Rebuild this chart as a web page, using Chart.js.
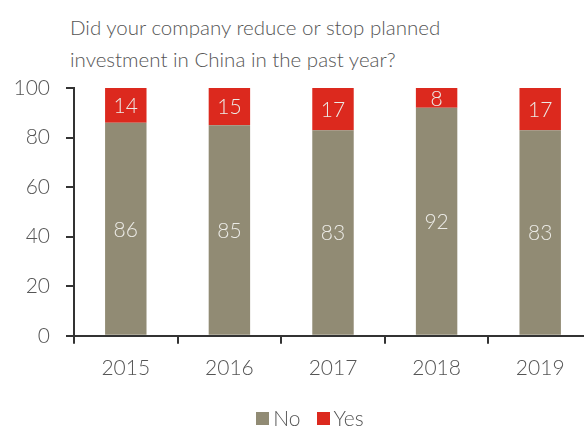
<!DOCTYPE html>
<html lang="en">
<head>
<meta charset="UTF-8">
<title>Planned investment in China</title>
<script src="https://cdn.jsdelivr.net/npm/chart.js@4.4.1/dist/chart.umd.min.js"></script>
<style>
    html, body {
        margin: 0;
        padding: 0;
        background: #ffffff;
        overflow: hidden;
    }
    .wrap {
        position: relative;
        width: 584px;
        height: 427px;
        overflow: hidden;
        font-family: Lato, "Open Sans", sans-serif;
        font-weight: 300;
        color: #555555;
    }
    .title {
        position: absolute;
        left: 70px;
        top: 11px;
        font-size: 20.5px;
        line-height: 32px;
    }
    .chart-box {
        position: absolute;
        left: 0;
        top: 0;
        width: 600px;
        height: 427px;
    }
    .legend {
        position: absolute;
        left: 0;
        width: 584px;
        top: 405px;
        text-align: center;
        font-size: 21px;
        line-height: 26px;
        padding-left: 36px;
        box-sizing: border-box;
    }
    .legend span.item {
        display: inline-block;
        margin: 0 8px;
    }
    .legend i {
        display: inline-block;
        width: 13px;
        height: 13px;
        margin-right: 4px;
        vertical-align: 1px;
    }
</style>
</head>
<body>
<div class="wrap">
    <div class="title">Did your company reduce or stop planned<br>investment in China in the past year?</div>
    <div class="chart-box"><canvas id="invest"></canvas></div>
    <div class="legend" id="legend"></div>
</div>
<script>
    // survey answers, percent of respondents
    const years = ['2015', '2016', '2017', '2018', '2019'];
    const noValues = [86, 85, 83, 92, 83];
    const yesValues = [14, 15, 17, 8, 17];
    const yTicks = [0, 20, 40, 60, 80, 100];

    const FONT = 'Lato, "Open Sans", sans-serif';
    const GREY = '#918b74';
    const RED = '#dc291e';

    // writes each segment's value in the middle of its bar piece
    const segmentLabels = {
        id: 'segmentLabels',
        afterDatasetsDraw(chart) {
            const ctx = chart.ctx;
            ctx.save();
            ctx.font = '300 21px ' + FONT;
            ctx.fillStyle = '#ecebe6';
            ctx.textAlign = 'center';
            ctx.textBaseline = 'middle';
            chart.data.datasets.forEach((ds, i) => {
                chart.getDatasetMeta(i).data.forEach((bar, j) => {
                    const p = bar.getProps(['x', 'y', 'base'], true);
                    ctx.fillText(String(ds.data[j]), p.x, (p.y + p.base) / 2 + 1);
                });
            });
            ctx.restore();
        }
    };

    const chart = new Chart(document.getElementById('invest'), {
        type: 'bar',
        data: {
            labels: years,
            datasets: [
                { label: 'No', data: noValues, backgroundColor: GREY },
                { label: 'Yes', data: yesValues, backgroundColor: RED }
            ]
        },
        options: {
            responsive: true,
            maintainAspectRatio: false,
            animation: false,
            barPercentage: 0.4,
            categoryPercentage: 1,
            layout: { padding: { top: 88, right: 8, left: 0, bottom: 34 } },
            scales: {
                x: {
                    stacked: true,
                    grid: { drawOnChartArea: false, drawTicks: true, tickLength: 8, color: '#333', lineWidth: 2 },
                    border: { color: '#333', width: 2 },
                    ticks: { color: '#555', font: { family: FONT, size: 21, weight: 300 }, padding: 12 }
                },
                y: {
                    stacked: true,
                    min: 0,
                    max: 100,
                    afterBuildTicks(scale) {
                        scale.ticks = yTicks.map(v => ({ value: v }));
                    },
                    afterFit(scale) {
                        scale.width = 74;
                    },
                    grid: { drawOnChartArea: false, drawTicks: true, tickLength: 8, color: '#333', lineWidth: 2 },
                    border: { color: '#333', width: 2 },
                    ticks: { color: '#555', font: { family: FONT, size: 21, weight: 300 }, padding: 16 }
                }
            },
            plugins: {
                legend: { display: false },
                tooltip: { enabled: false }
            }
        },
        plugins: [segmentLabels]
    });

    // legend below the axis, built from the datasets
    document.getElementById('legend').innerHTML = chart.data.datasets.map(ds =>
        '<span class="item"><i style="background:' + ds.backgroundColor + '"></i>' + ds.label + '</span>'
    ).join('');
</script>
</body>
</html>
